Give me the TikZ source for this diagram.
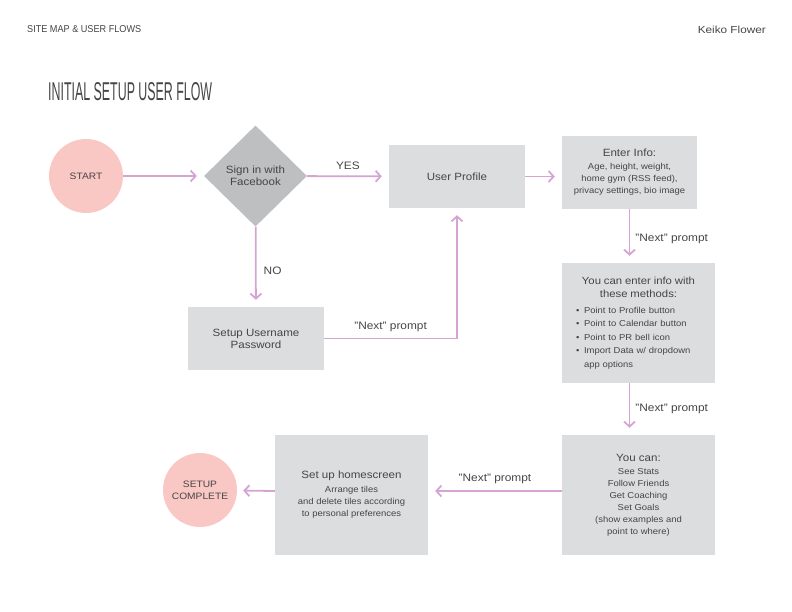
\documentclass[tikz,border=0pt]{standalone}
\usepackage{fontspec}
\usepackage{graphicx}
\setmainfont{Liberation Sans}[FakeStretch=1.1]
\usetikzlibrary{shapes.geometric,arrows.meta,calc}
\definecolor{txt}{HTML}{454545}
\definecolor{flow}{HTML}{D6A4D2}
\definecolor{pinkc}{HTML}{FAC8C4}
\definecolor{dia}{HTML}{BEBFC0}
\definecolor{boxc}{HTML}{DCDDDE}
\begin{document}
\begin{tikzpicture}[x=1pt,y=-1pt,
  every node/.style={text=txt, font=\fontsize{10.5}{12}\selectfont},
  terminal/.style={circle, fill=pinkc, minimum size=74pt, inner sep=0pt, align=center, font=\fontsize{9.3}{12}\selectfont},
  decision/.style={diamond, fill=dia, minimum width=103pt, minimum height=101pt, inner sep=0pt, align=center},
  stepbox/.style={rectangle, fill=boxc, inner sep=0pt, align=center},
  small/.style={font=\fontsize{8.6}{12}\selectfont},
  flowline/.style={draw=flow, line width=1.8pt, -{Straight Barb[length=5pt,width=11pt,line width=1.8pt]}, shorten >=7pt},
  lbl/.style={inner sep=0pt, font=\fontsize{10.8}{12}\selectfont}
]
\useasboundingbox (0,0) rectangle (792,612);

% header
\node[inner sep=0pt, anchor=west] (hdr) at (27,29.5) {\resizebox{114pt}{7pt}{SITE MAP \& USER FLOWS}};
\node[inner sep=0pt, anchor=east] (author) at (766,29.5) {\resizebox{68pt}{7.4pt}{Keiko Flower}};
\node[inner sep=0pt, anchor=south west] (title) at (48,101) {\resizebox{164pt}{18pt}{INITIAL SETUP USER FLOW}};

% nodes
\node[terminal] (start) at (86,176) {START};
\node[decision] (fb) at (255.5,176) {Sign in with\\Facebook};
\node[stepbox, minimum width=136pt, minimum height=63pt] (profile) at (457,176.5) {User Profile};
\node[stepbox, small, minimum width=135pt, minimum height=73pt] (enter) at (629.5,172.5)
  {{\fontsize{10.5}{12}\selectfont Enter Info:}\\[1pt]Age, height, weight,\\home gym (RSS feed),\\privacy settings, bio image};
\node[stepbox, minimum width=136pt, minimum height=63pt] (setupuser) at (256,338.5) {Setup Username\\Password};
\node[stepbox, minimum width=153pt, minimum height=120pt, text width=125pt, align=left,
  font=\fontsize{8.6}{13.5}\selectfont] (methods) at (638.5,323)
  {\makebox[125pt]{\fontsize{10.3}{12}\selectfont You can enter info with}\\
   \makebox[125pt]{\fontsize{10.3}{12}\selectfont these methods:}\\[2pt]
   \makebox[8pt][l]{\textbullet}Point to Profile button\\
   \makebox[8pt][l]{\textbullet}Point to Calendar button\\
   \makebox[8pt][l]{\textbullet}Point to PR bell icon\\
   \makebox[8pt][l]{\textbullet}Import Data w/ dropdown\\
   \hspace*{8pt}app options};
\node[stepbox, small, minimum width=153pt, minimum height=120pt] (youcan) at (638.5,495)
  {{\fontsize{10.5}{12}\selectfont You can:}\\[1pt]See Stats\\Follow Friends\\Get Coaching\\Set Goals\\(show examples and\\point to where)};
\node[stepbox, small, minimum width=153pt, minimum height=120pt] (home) at (351.5,495)
  {{\fontsize{10.5}{12}\selectfont Set up homescreen}\\[2pt]Arrange tiles\\and delete tiles according\\to personal preferences};
\node[terminal] (done) at (200,490) {SETUP\\COMPLETE};

% connectors
\draw[flowline] (start) -- (fb);
\draw[flowline] (fb) -- node[lbl, above=6pt] (yes) {YES} (profile);
\draw[flowline] (profile.east) -- (profile.east -| enter.west);
\draw[flowline] (fb) -- node[lbl, right=7pt, pos=0.55] (no) {NO} (setupuser);
\draw[flowline] (setupuser.east) -| node[lbl, pos=0.25, above=6pt] (nx1) {"Next" prompt} (profile.south);
\draw[flowline] (enter.south) -- node[lbl, right=5pt, pos=0.55] (nx2) {"Next" prompt} (enter.south |- methods.north);
\draw[flowline] (enter.south |- methods.south) -- node[lbl, right=5pt, pos=0.5] (nx3) {"Next" prompt} (enter.south |- youcan.north);
\draw[flowline] ([yshift=4pt]youcan.west) -- node[lbl, above=6pt, pos=0.5] (nx4) {"Next" prompt} ([yshift=4pt]home.east);
\draw[flowline, shorten >=6pt] ([yshift=4pt]home.west) -- (done);
\end{tikzpicture}
\end{document}
